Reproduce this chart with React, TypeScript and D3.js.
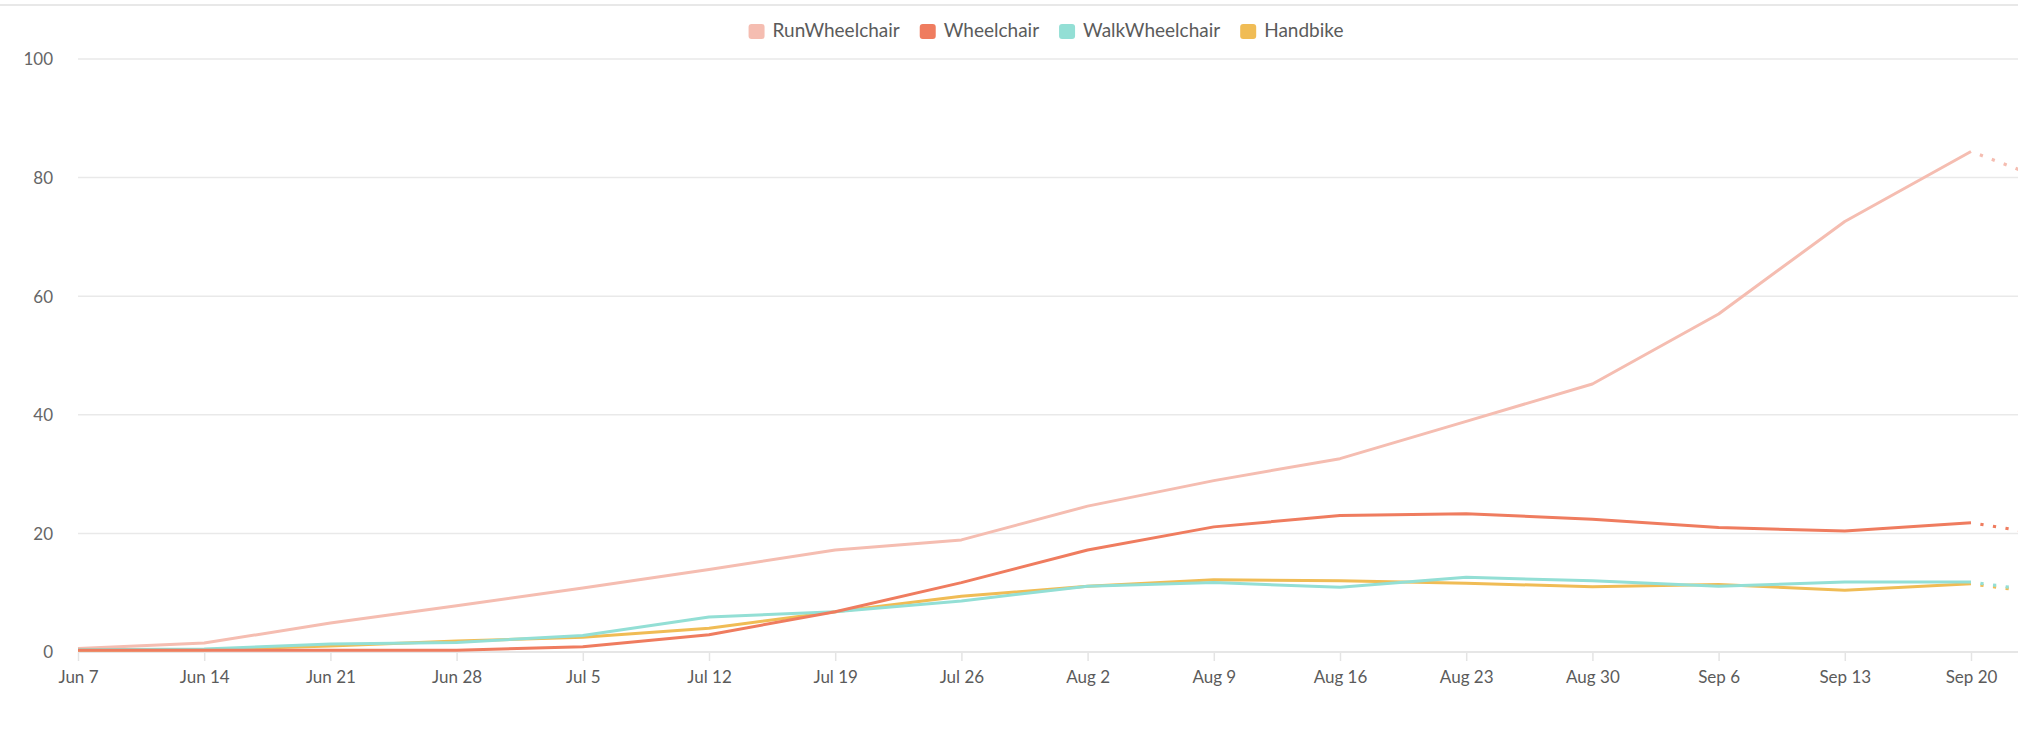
import React, { useRef, useEffect } from 'react';
import * as d3 from 'd3';

// weekly dates (last one is the partial, projected week)
const weeks = [
  '2020-06-07', '2020-06-14', '2020-06-21', '2020-06-28', '2020-07-05', '2020-07-12',
  '2020-07-19', '2020-07-26', '2020-08-02', '2020-08-09', '2020-08-16', '2020-08-23',
  '2020-08-30', '2020-09-06', '2020-09-13', '2020-09-20', '2020-09-27',
];

const runWheelchair = [0.6, 1.5, 4.9, 7.8, 10.8, 13.9, 17.2, 18.9, 24.6, 28.9, 32.6, 38.9, 45.2, 57.0, 72.6, 84.4, 76.4];
const wheelchair = [0.3, 0.3, 0.3, 0.3, 0.9, 2.9, 6.8, 11.7, 17.2, 21.1, 23.0, 23.3, 22.4, 21.0, 20.4, 21.8, 18.4];
const walkWheelchair = [0.4, 0.5, 1.35, 1.6, 2.8, 5.9, 6.8, 8.6, 11.1, 11.7, 10.9, 12.6, 12.0, 11.1, 11.8, 11.8, 8.9];
const handbike = [0.3, 0.4, 1.0, 1.85, 2.5, 4.0, 6.8, 9.4, 11.1, 12.2, 12.0, 11.6, 11.0, 11.4, 10.4, 11.5, 8.7];

const seriesNames = ['RunWheelchair', 'Wheelchair', 'WalkWheelchair', 'Handbike'];
const seriesColors = ['#f5bdb1', '#ef7c5f', '#93dfd5', '#f0bc55'];
const seriesValues = [runWheelchair, wheelchair, walkWheelchair, handbike];
// draw order so that crossings layer like the original
const drawOrder = [0, 3, 2, 1];

const yTicks = [0, 20, 40, 60, 80, 100];

const W = 2018;
const H = 732;
const FONT = 'Lato, "Open Sans", sans-serif';

const App: React.FC = () => {
  const svgRef = useRef<SVGSVGElement>(null);

  useEffect(() => {
    const svg = d3.select(svgRef.current);
    svg.selectAll('*').remove();

    const parse = d3.timeParse('%Y-%m-%d');
    const dates = weeks.map(d => parse(d) as Date);
    const lastSolid = dates.length - 2;

    const plotLeft = 78;
    const step = 126.2;

    const x = d3.scaleTime()
      .domain([dates[0], dates[dates.length - 1]])
      .range([plotLeft, plotLeft + step * (dates.length - 1)]);

    const y = d3.scaleLinear().domain([0, 100]).range([652, 59]);

    // card edge
    svg.append('line')
      .attr('x1', 0).attr('x2', W)
      .attr('y1', 5).attr('y2', 5)
      .attr('stroke', '#e8e8e8')
      .attr('stroke-width', 2);

    // grid
    svg.append('g')
      .selectAll('line')
      .data(yTicks.filter(t => t > 0))
      .enter()
      .append('line')
      .attr('x1', plotLeft).attr('x2', W)
      .attr('y1', d => y(d)).attr('y2', d => y(d))
      .attr('stroke', '#e9e9e9')
      .attr('stroke-width', 1.5);

    // y labels
    svg.append('g')
      .selectAll('text')
      .data(yTicks)
      .enter()
      .append('text')
      .attr('x', 53)
      .attr('y', d => y(d) + 2)
      .attr('text-anchor', 'end')
      .attr('dominant-baseline', 'middle')
      .attr('font-family', FONT)
      .attr('font-size', 17)
      .attr('fill', '#666')
      .text(d => d);

    // x axis
    const xAxis = d3.axisBottom<Date>(x)
      .tickValues(dates.slice(0, lastSolid + 1))
      .tickFormat(d3.timeFormat('%b %-d'))
      .tickSize(9)
      .tickPadding(10);

    const ax = svg.append('g')
      .attr('transform', `translate(0,${y(0)})`)
      .call(xAxis);
    ax.select('.domain').remove();
    ax.selectAll('.tick line').attr('stroke', '#e4e4e4').attr('stroke-width', 1.5);
    ax.selectAll('.tick text')
      .attr('font-family', FONT)
      .attr('font-size', 17)
      .attr('fill', '#5b5b5b');

    svg.append('line')
      .attr('x1', plotLeft).attr('x2', W)
      .attr('y1', y(0)).attr('y2', y(0))
      .attr('stroke', '#e6e6e6')
      .attr('stroke-width', 2);

    // lines
    const line = d3.line<[Date, number]>()
      .x(d => x(d[0]))
      .y(d => y(d[1]));

    drawOrder.forEach(i => {
      const pts: [Date, number][] = dates.map((d, k) => [d, seriesValues[i][k]]);
      svg.append('path')
        .attr('d', line(pts.slice(0, lastSolid + 1)))
        .attr('fill', 'none')
        .attr('stroke', seriesColors[i])
        .attr('stroke-width', 3)
        .attr('stroke-linejoin', 'round');
      svg.append('path')
        .attr('d', line(pts.slice(lastSolid)))
        .attr('fill', 'none')
        .attr('stroke', seriesColors[i])
        .attr('stroke-width', 3.2)
        .attr('stroke-dasharray', '0 9.5 3.2 0');
    });

    // legend
    const legend = svg.append('g');
    let cursor = 0;
    seriesNames.forEach((name, i) => {
      const item = legend.append('g').attr('transform', `translate(${cursor},0)`);
      item.append('rect')
        .attr('x', 0).attr('y', 24)
        .attr('width', 16).attr('height', 15)
        .attr('rx', 3)
        .attr('fill', seriesColors[i]);
      const t = item.append('text')
        .attr('x', 24)
        .attr('y', 32.5)
        .attr('dominant-baseline', 'middle')
        .attr('font-family', FONT)
        .attr('font-size', 19)
        .attr('fill', '#5b5b5b')
        .text(name);
      const w = (t.node() as SVGTextElement).getComputedTextLength();
      cursor += 24 + w + 20;
    });
    const total = cursor - 20;
    legend.attr('transform', `translate(${1046 - total / 2},0)`);
  }, []);

  return (
    <div style={{ position: 'absolute', left: 0, top: 0, width: W, height: H, background: '#fff' }}>
      <svg ref={svgRef} width={W} height={H} style={{ display: 'block' }} />
    </div>
  );
};

export default App;
